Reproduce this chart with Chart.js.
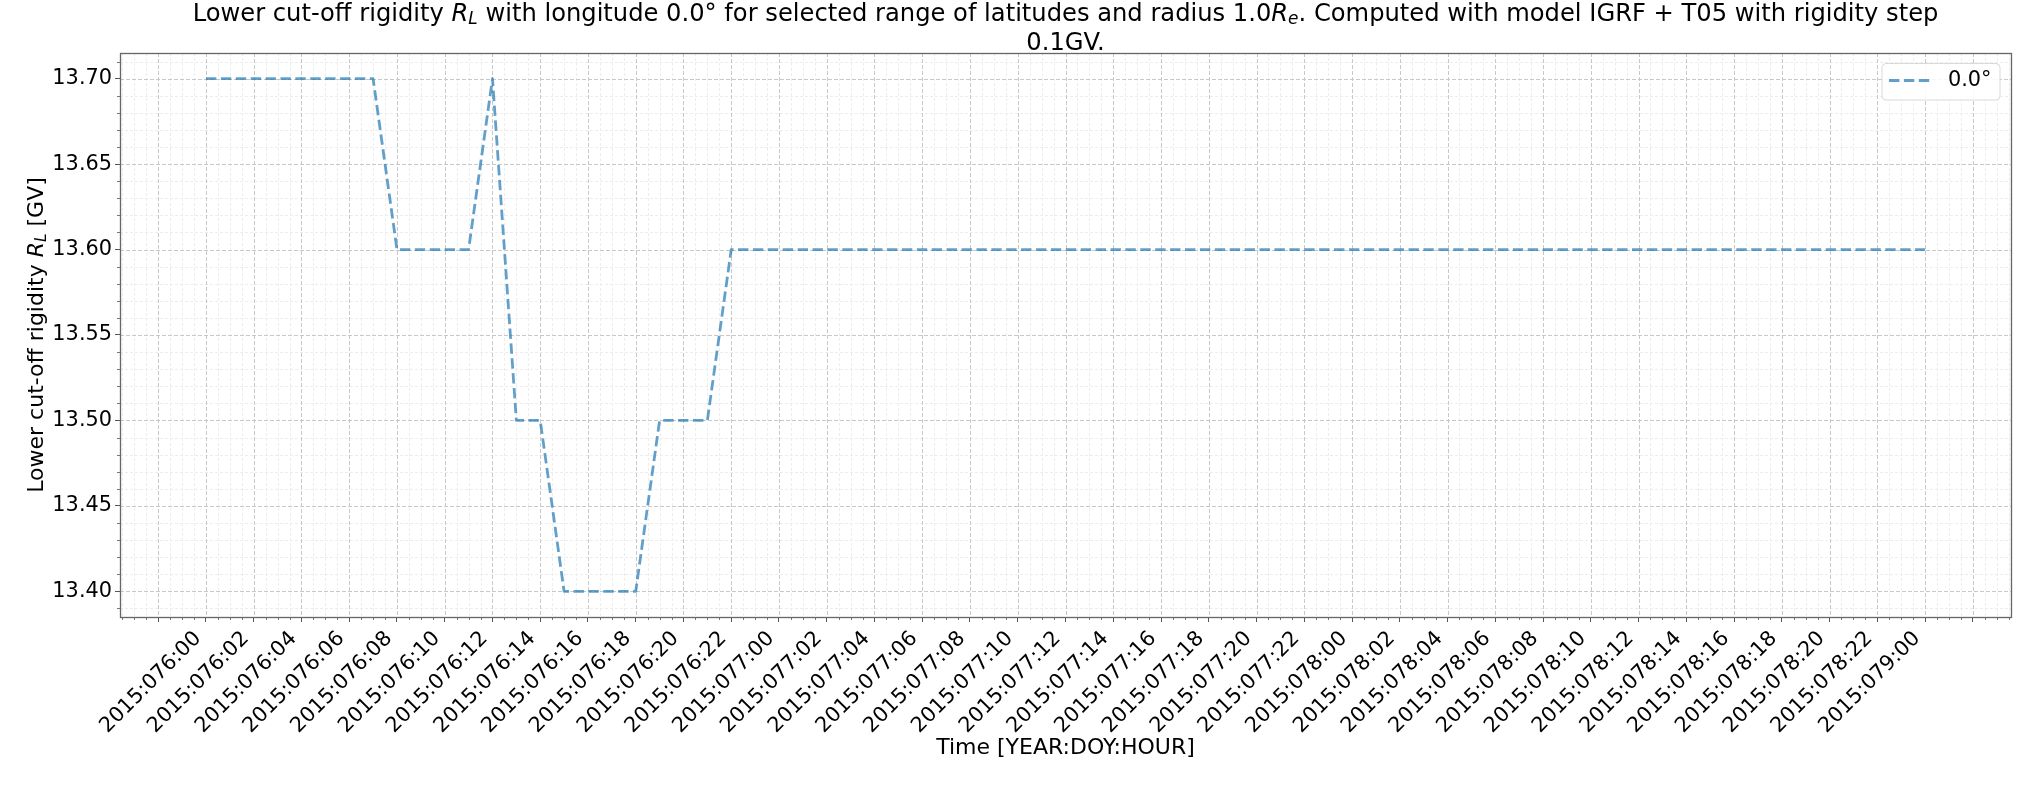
<!DOCTYPE html>
<html>
<head>
<meta charset="utf-8">
<script src="https://cdn.jsdelivr.net/npm/chart.js@4.4.1/dist/chart.umd.min.js"></script>
<style>
html,body{margin:0;padding:0;background:#fff;}
#wrap{width:2035px;height:785px;position:relative;}
</style>
</head>
<body>
<div id="wrap"><canvas id="c" width="2035" height="785" style="width:2035px;height:785px"></canvas></div>
<script>
// ---- data (hours since 2015:076:00) ----
const hours = [0,1,2,3,4,5,6,7,8,9,10,11,12,13,14,15,16,17,18,19,20,21,22,23,24,
  25,26,27,28,29,30,31,32,33,34,35,36,37,38,39,40,41,42,43,44,45,46,47,48,
  49,50,51,52,53,54,55,56,57,58,59,60,61,62,63,64,65,66,67,68,69,70,71,72];
const rigidity = [13.70,13.70,13.70,13.70,13.70,13.70,13.70,13.70,
  13.60,13.60,13.60,13.60,13.70,13.50,13.50,13.40,13.40,13.40,13.40,
  13.50,13.50,13.50,13.60,13.60,13.60,13.60,13.60,13.60,13.60,13.60,13.60,
  13.60,13.60,13.60,13.60,13.60,13.60,13.60,13.60,13.60,13.60,13.60,13.60,
  13.60,13.60,13.60,13.60,13.60,13.60,13.60,13.60,13.60,13.60,13.60,13.60,
  13.60,13.60,13.60,13.60,13.60,13.60,13.60,13.60,13.60,13.60,13.60,13.60,
  13.60,13.60,13.60,13.60,13.60,13.60];
const seriesLabel = '0.0°';

// ---- tick labels ----
const xTickHours = [-2,0,2,4,6,8,10,12,14,16,18,20,22,24,26,28,30,32,34,36,38,40,
  42,44,46,48,50,52,54,56,58,60,62,64,66,68,70,72,74];
const xTickLabels = ['',
  '2015:076:00','2015:076:02','2015:076:04','2015:076:06','2015:076:08','2015:076:10',
  '2015:076:12','2015:076:14','2015:076:16','2015:076:18','2015:076:20','2015:076:22',
  '2015:077:00','2015:077:02','2015:077:04','2015:077:06','2015:077:08','2015:077:10',
  '2015:077:12','2015:077:14','2015:077:16','2015:077:18','2015:077:20','2015:077:22',
  '2015:078:00','2015:078:02','2015:078:04','2015:078:06','2015:078:08','2015:078:10',
  '2015:078:12','2015:078:14','2015:078:16','2015:078:18','2015:078:20','2015:078:22',
  '2015:079:00',''];
const yTickValues = [13.40,13.45,13.50,13.55,13.60,13.65,13.70];
const yTickLabels = ['13.40','13.45','13.50','13.55','13.60','13.65','13.70'];

// ---- texts ----
const titleLine1 = [
  {t:'Lower cut-off rigidity '},{t:'R',i:true},{t:'L',i:true,sub:true},
  {t:' with longitude 0.0° for selected range of latitudes and radius 1.0'},
  {t:'R',i:true},{t:'e',i:true,sub:true},
  {t:'. Computed with model IGRF + T05 with rigidity step'}];
const titleLine2 = [{t:'0.1GV.'}];
const yAxisLabel = [{t:'Lower cut-off rigidity '},{t:'R',i:true},{t:'L',i:true,sub:true},{t:' [GV]'}];
const xAxisLabel = 'Time [YEAR:DOY:HOUR]';

const FAM = '"DejaVu Sans", sans-serif';
const FS = 20.83;      // ticks, legend
const FS_LABEL = 22;   // axis labels
const FS_TITLE = 24.2; // title
const LINE_COLOR = 'rgba(31,119,180,0.7)';

function fontFor(s, size){ return (s.i?'italic ':'') + (s.sub ? size*0.7 : size) + 'px ' + FAM; }
function richWidth(ctx, segs, size){
  let w = 0;
  for (const s of segs){ ctx.font = fontFor(s,size); w += ctx.measureText(s.t).width; }
  return w;
}
function drawRich(ctx, segs, x, y, size){
  ctx.textAlign = 'left'; ctx.textBaseline = 'alphabetic';
  for (const s of segs){
    ctx.font = fontFor(s,size);
    ctx.fillText(s.t, x, y + (s.sub ? size*0.14 : 0));
    x += ctx.measureText(s.t).width;
  }
}
function hline(ctx,x1,x2,y){ctx.beginPath();ctx.moveTo(x1,y);ctx.lineTo(x2,y);ctx.stroke();}
function vline(ctx,x,y1,y2){ctx.beginPath();ctx.moveTo(x,y1);ctx.lineTo(x,y2);ctx.stroke();}

const decor = {
  id:'decor',
  beforeDatasetsDraw(chart){
    const {ctx, chartArea:a, scales:{x,y}} = chart;
    ctx.save();
    ctx.lineWidth = 1;
    // minor grid
    ctx.strokeStyle = '#ededed'; ctx.setLineDash([3,2]);
    for (let k=-7; k<=151; k++){
      const v = k*0.5; if (k % 4 === 0) continue;
      const px = Math.round(x.getPixelForValue(v))+0.5;
      if (px<a.left||px>a.right) continue;
      vline(ctx,px,a.top,a.bottom);
    }
    for (let k=1339; k<=1371; k++){
      if (k % 5 === 0) continue;
      const py = Math.round(y.getPixelForValue(k/100))+0.5;
      if (py<a.top||py>a.bottom) continue;
      hline(ctx,a.left,a.right,py);
    }
    // major grid
    ctx.strokeStyle = '#c8c8c8'; ctx.setLineDash([4,2]);
    for (const v of xTickHours){
      const px = Math.round(x.getPixelForValue(v))+0.5;
      vline(ctx,px,a.top,a.bottom);
    }
    for (const v of yTickValues){
      const py = Math.round(y.getPixelForValue(v))+0.5;
      hline(ctx,a.left,a.right,py);
    }
    ctx.restore();
  },
  afterDraw(chart){
    const {ctx, chartArea:a, scales:{x,y}} = chart;
    ctx.save();
    // minor ticks
    ctx.setLineDash([]); ctx.strokeStyle = '#555'; ctx.lineWidth = 0.8;
    for (let k=-7; k<=151; k++){
      if (k % 4 === 0) continue;
      const px = Math.round(x.getPixelForValue(k*0.5))+0.5;
      vline(ctx,px,a.bottom,a.bottom+3);
    }
    for (let k=1339; k<=1371; k++){
      if (k % 5 === 0) continue;
      const py = Math.round(y.getPixelForValue(k/100))+0.5;
      hline(ctx,a.left-3,a.left,py);
    }
    // frame
    ctx.strokeStyle = '#666'; ctx.lineWidth = 1.3;
    ctx.strokeRect(Math.round(a.left)+0.5, Math.round(a.top)+0.5, Math.round(a.right-a.left), Math.round(a.bottom-a.top));
    // title
    ctx.fillStyle = '#000';
    const cx = (a.left+a.right)/2;
    const w1 = richWidth(ctx,titleLine1,FS_TITLE);
    drawRich(ctx,titleLine1,cx-w1/2,21,FS_TITLE);
    const w2 = richWidth(ctx,titleLine2,FS_TITLE);
    drawRich(ctx,titleLine2,cx-w2/2,49.5,FS_TITLE);
    // y label
    const wy = richWidth(ctx,yAxisLabel,FS_LABEL);
    ctx.save();
    ctx.translate(43,(a.top+a.bottom)/2);
    ctx.rotate(-Math.PI/2);
    drawRich(ctx,yAxisLabel,-wy/2,0,FS_LABEL);
    ctx.restore();
    // legend
    const lx=1882, ly=63.5, lw=118, lh=36.5, r=4;
    ctx.beginPath();
    ctx.moveTo(lx+r,ly); ctx.lineTo(lx+lw-r,ly); ctx.arcTo(lx+lw,ly,lx+lw,ly+r,r);
    ctx.lineTo(lx+lw,ly+lh-r); ctx.arcTo(lx+lw,ly+lh,lx+lw-r,ly+lh,r);
    ctx.lineTo(lx+r,ly+lh); ctx.arcTo(lx,ly+lh,lx,ly+lh-r,r);
    ctx.lineTo(lx,ly+r); ctx.arcTo(lx,ly,lx+r,ly,r); ctx.closePath();
    ctx.fillStyle='rgba(255,255,255,0.85)'; ctx.fill();
    ctx.strokeStyle='#d9d9d9'; ctx.lineWidth=1; ctx.stroke();
    ctx.strokeStyle = LINE_COLOR; ctx.lineWidth = 2.8; ctx.setLineDash([10.4,4.5]); ctx.lineCap='butt';
    hline(ctx,1889,1929.5,80.5);
    ctx.setLineDash([]);
    ctx.fillStyle='#000'; ctx.font = FS+'px '+FAM; ctx.textAlign='left'; ctx.textBaseline='middle';
    ctx.fillText(chart.data.datasets[0].label, 1948, 81);
    ctx.restore();
  }
};

const tickFont = {family: FAM, size: FS};
new Chart(document.getElementById('c'), {
  type: 'line',
  data: {
    datasets: [{
      label: seriesLabel,
      data: hours.map((h,i)=>({x:h, y:rigidity[i]})),
      borderColor: LINE_COLOR,
      borderWidth: 2.8,
      borderDash: [10.4,4.5],
      borderCapStyle: 'butt',
      borderJoinStyle: 'round',
      pointRadius: 0,
      tension: 0,
      fill: false
    }]
  },
  options: {
    responsive: false,
    animation: false,
    devicePixelRatio: 1,
    layout: {padding: {top: 53, right: 24, left: 0, bottom: 0}},
    plugins: {legend: {display: false}, title: {display: false}, tooltip: {enabled: false}},
    scales: {
      x: {
        type: 'linear', min: -3.6, max: 75.6,
        afterBuildTicks: s => { s.ticks = xTickHours.map(v => ({value: v})); },
        afterFit: s => { s.height = 168; },
        ticks: {autoSkip: false, minRotation: 45, maxRotation: 45, font: tickFont, color: '#000',
                padding: 4.5, labelOffset: -8,
                callback: (v, i) => xTickLabels[i]},
        grid: {drawOnChartArea: false, drawTicks: true, tickLength: 5, tickColor: '#555', tickWidth: 1},
        border: {display: false},
        title: {display: true, text: xAxisLabel, color: '#000', font: {family: FAM, size: FS_LABEL},
                padding: {top: 0, bottom: 23.5}}
      },
      y: {
        type: 'linear', min: 13.385, max: 13.715,
        afterBuildTicks: s => { s.ticks = yTickValues.map(v => ({value: v})); },
        afterFit: s => { s.width = 120; },
        ticks: {font: tickFont, color: '#000', padding: 3,
                callback: (v, i) => yTickLabels[i]},
        grid: {drawOnChartArea: false, drawTicks: true, tickLength: 5, tickColor: '#555', tickWidth: 1},
        border: {display: false}
      }
    }
  },
  plugins: [decor]
});
</script>
</body>
</html>
